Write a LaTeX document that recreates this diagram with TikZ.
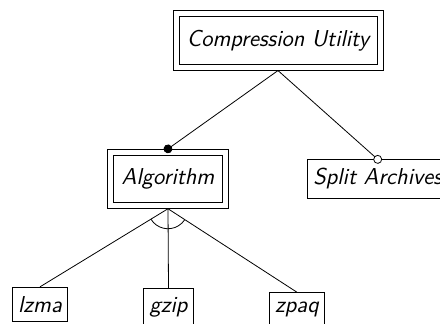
\documentclass[tikz,border=0pt]{standalone}
\usepackage{tikz}
\usetikzlibrary{arrows.meta, calc, fit, positioning}

\begin{document}
\begin{tikzpicture}[auto]

\tikzstyle{feature} = [draw, shape=rectangle, inner xsep=3pt, inner ysep=4.4pt, font=\fontsize{11.5}{13.5}\selectfont\sffamily\slshape]
\tikzstyle{group} = [feature, inner xsep=4pt, inner ysep=6.65pt]
\tikzstyle{frame} = [draw, shape=rectangle, inner sep=2.75pt]
\tikzstyle{mandatory} = [-{Circle[length=4.4pt]}, shorten >=-2.2pt]
\tikzstyle{optional} = [-{Circle[open, length=4.4pt, fill=white]}, shorten >=-2.2pt]

\useasboundingbox (0,0) rectangle (220pt,-161.5pt);

%Creating Features
\node [group] at (139pt,-20.25pt) (util) {Compression Utility};
\node [frame, fit=(util)] (utilbox) {};
\node [group] at (84pt,-89.4pt) (algo) {Algorithm};
\node [frame, fit=(algo)] (algobox) {};
\node [feature, anchor=west] at (153.5pt,-89.5pt) (split) {Split Archives};
\node [feature, anchor=base] at (84.25pt,-156pt) (gzip) {gzip};
\node [feature, anchor=base] at (20pt,-156pt) (lzma) {lzma};
\node [feature, anchor=base] at (148.5pt,-156pt) (zpaq) {zpaq};

%Connecting Features
\draw [mandatory] (utilbox.south) -- (algobox.north);
\draw [optional] (utilbox.south) -- (split.north);
\draw (algobox.south) -- (lzma.north);
\draw (algobox.south) -- (gzip.north);
\draw (algobox.south) -- (zpaq.north);

%Alternative Group
\draw let \p1 = ($(lzma.north)-(algobox.south)$), \p2 = ($(zpaq.north)-(algobox.south)$),
  \n1 = {atan2(\y1,\x1)}, \n2 = {atan2(\y2,\x2)} in
  ($(algobox.south)!10pt!(lzma.north)$) arc[start angle=\n1, end angle=\n2, radius=10pt];
\end{tikzpicture}
\end{document}
